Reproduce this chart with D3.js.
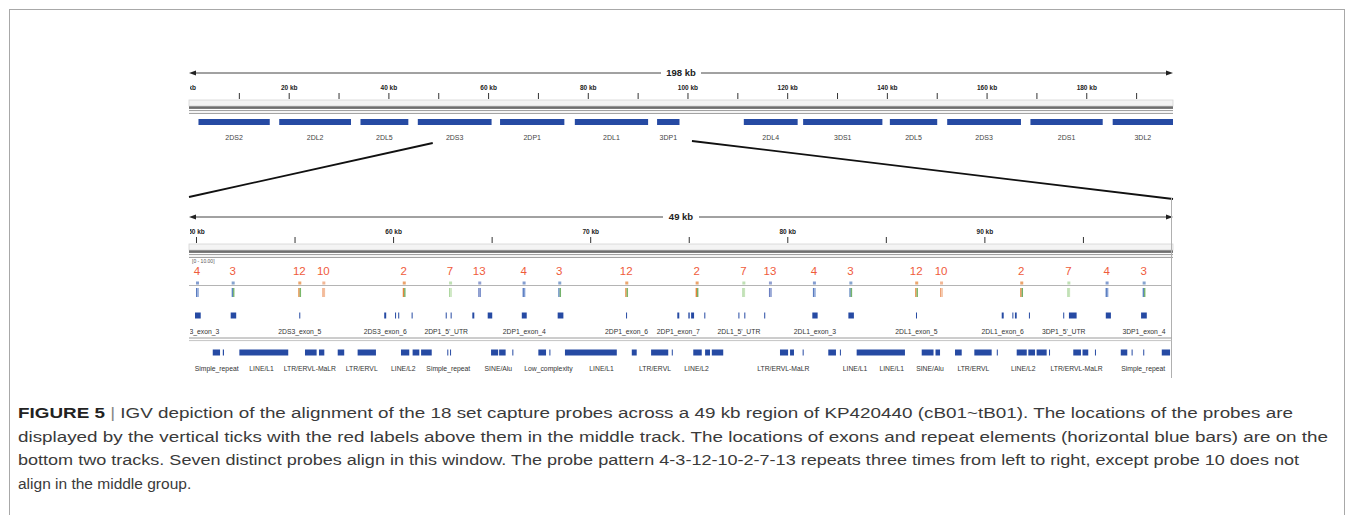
<!DOCTYPE html>
<html>
<head>
<meta charset="utf-8">
<script src="https://cdn.jsdelivr.net/npm/d3@7"></script>
<style>
    body { margin: 0; background: #fff; }
    svg { display: block; font-family: "Liberation Sans", Arial, Helvetica, sans-serif; }
</style>
</head>
<body>
<script>
// overview track: KIR genes along the 198 kb contig (kb)
const overviewSpan = [0, 197.4];
const overviewTicks = d3.range(0, 191, 10);
const geneNames = ["2DS2", "2DL2", "2DL5", "2DS3", "2DP1", "2DL1", "3DP1", "2DL4", "3DS1", "2DL5", "2DS3", "2DS1", "3DL2"];
const geneStart = [1.9, 18.1, 34.4, 45.9, 62.4, 77.4, 93.9, 111.3, 123.2, 140.6, 152.1, 168.8, 185.3];
const geneEnd = [16.2, 32.5, 44.0, 60.7, 75.3, 92.1, 98.4, 122.1, 139.1, 150.1, 166.9, 183.3, 197.4];
const zoomWindow = [48.9, 100.9];

// detail view: the 49 kb window (kb)
const detailSpan = [49.645, 99.57];
const detailTicks = d3.range(50, 96, 5);

const probeIds = [4, 3, 12, 10, 2, 7, 13, 4, 3, 12, 2, 7, 13, 4, 3, 12, 10, 2, 7, 4, 3];
const probePos = [50.00, 51.81, 55.19, 56.41, 60.49, 62.84, 64.32, 66.57, 68.38, 71.78, 75.35,
    77.72, 79.07, 81.30, 83.15, 86.49, 87.75, 91.82, 94.21, 96.15, 98.03];

const exonStart = [49.95, 51.76, 55.24, 59.55, 60.10, 60.26, 60.94, 62.67, 62.92, 64.02, 64.80,
    66.53, 68.35, 71.82, 74.42, 74.98, 75.12, 75.79, 77.52, 77.82, 78.83, 81.27, 83.10,
    86.53, 90.88, 91.42, 91.55, 92.26, 94.00, 94.29, 96.16, 97.95];
const exonEnd = [50.24, 52.04, 55.29, 59.65, 60.15, 60.31, 60.99, 62.72, 62.97, 64.12, 65.03,
    66.78, 68.64, 71.87, 74.52, 75.05, 75.27, 75.84, 77.57, 77.87, 78.88, 81.54, 83.38,
    86.58, 90.98, 91.47, 91.64, 92.31, 94.05, 94.68, 96.42, 98.24];
const exonNames = ["2DS3_exon_3", "", "2DS3_exon_5", "2DS3_exon_6", "", "", "", "2DP1_5'_UTR", "", "", "",
    "2DP1_exon_4", "", "2DP1_exon_6", "2DP1_exon_7", "", "", "", "2DL1_5'_UTR", "", "", "2DL1_exon_3", "",
    "2DL1_exon_5", "2DL1_exon_6", "", "", "", "3DP1_5'_UTR", "", "", "3DP1_exon_4"];

const repeatStart = [50.85, 51.36, 52.20, 55.53, 56.24, 57.19, 58.20, 60.40, 60.99, 61.42, 62.75, 62.89,
    64.97, 65.38, 66.05, 67.37, 67.93, 68.72, 72.11, 73.09, 74.14, 75.23, 75.83, 76.17, 79.63, 80.14,
    80.78, 82.08, 82.67, 83.52, 86.82, 87.52, 88.51, 89.49, 90.63, 91.64, 92.23, 92.65, 93.28, 94.51,
    94.98, 95.61, 96.92, 97.47, 98.06, 99.00];
const repeatEnd = [51.22, 51.42, 54.68, 56.12, 56.51, 57.52, 59.13, 60.82, 61.33, 61.96, 62.80, 62.94,
    65.33, 65.71, 66.10, 67.76, 67.98, 71.35, 72.36, 73.96, 74.19, 75.66, 76.08, 76.75, 80.04, 80.34,
    80.83, 82.47, 82.72, 85.97, 87.42, 87.75, 88.85, 90.37, 90.68, 92.15, 92.57, 93.16, 93.33, 94.90,
    95.27, 95.66, 97.25, 97.52, 98.11, 99.42];
const repeatLabelPos = [51.05, 53.33, 55.78, 58.41, 60.52, 62.80, 65.34, 67.88, 70.58, 73.29, 75.40,
    79.80, 83.44, 85.30, 87.24, 89.44, 91.97, 94.68, 98.06];
const repeatLabels = ["Simple_repeat", "LINE/L1", "LTR/ERVL-MaLR", "LTR/ERVL", "LINE/L2", "Simple_repeat",
    "SINE/Alu", "Low_complexity", "LINE/L1", "LTR/ERVL", "LINE/L2", "LTR/ERVL-MaLR", "LINE/L1", "LINE/L1",
    "SINE/Alu", "LTR/ERVL", "LINE/L2", "LTR/ERVL-MaLR", "Simple_repeat"];

const captionLines = [
    " IGV depiction of the alignment of the 18 set capture probes across a 49 kb region of KP420440 (cB01~tB01). The locations of the probes are",
    "displayed by the vertical ticks with the red labels above them in the middle track. The locations of exons and repeat elements (horizontal blue bars) are on the",
    "bottom two tracks. Seven distinct probes align in this window. The probe pattern 4-3-12-10-2-7-13 repeats three times from left to right, except probe 10 does not",
    "align in the middle group."
];

// stripe colours of the aligned probe reads
const probeColors = {
    4: ["#5a7cc0", "#86a2d6"], 3: ["#5d86bf", "#74b36c"], 12: ["#e4883e", "#7ab86b"],
    10: ["#ee9f72", "#f3bf9f"], 2: ["#e4843a", "#72b069"], 7: ["#a9d59b", "#c9e5bd"], 13: ["#6c80c2", "#8094cc"]
};

class IgvFigure {
    constructor(name) {
        this.name = name;
        this.total_width = 1356;
        this.total_height = 515;
        this.left = 189;
        this.right = 1173;
        this.blue = "#264aa3";
        this.svg = null;
    }

    construct_svg(self = this) {
        self.svg = d3.select("body").append("svg")
            .attr("id", self.name)
            .attr("width", self.total_width)
            .attr("height", self.total_height);

        self.svg.append("defs").append("clipPath").attr("id", "panel_clip")
            .append("rect").attr("x", self.left + 1).attr("y", 0)
            .attr("width", self.right - self.left - 1).attr("height", self.total_height);

        self.svg.append("rect")
            .attr("x", 9.5).attr("y", 9.5).attr("width", 1335).attr("height", 620)
            .attr("fill", "none").attr("stroke", "#a8a8a8");
    }

    draw_ruler(scale, cfg, self = this) {
        const g = self.svg.append("g").attr("class", cfg.cls);
        const mid = (self.left + self.right) / 2;
        const y = cfg.arrowY;

        g.append("line").attr("x1", self.left + 3).attr("x2", mid - cfg.gap)
            .attr("y1", y).attr("y2", y).attr("stroke", "#444");
        g.append("line").attr("x1", mid + cfg.gap).attr("x2", self.right - 3)
            .attr("y1", y).attr("y2", y).attr("stroke", "#444");
        g.append("path").attr("fill", "#222")
            .attr("d", `M${self.left},${y}L${self.left + 7},${y - 2.5}L${self.left + 7},${y + 2.5}Z`);
        g.append("path").attr("fill", "#222")
            .attr("d", `M${self.right},${y}L${self.right - 7},${y - 2.5}L${self.right - 7},${y + 2.5}Z`);
        g.append("text").attr("x", mid).attr("y", y + 3.3)
            .attr("text-anchor", "middle").attr("font-size", 9.5).attr("font-weight", "bold")
            .attr("fill", "#222").text(cfg.label);

        const axis = d3.axisTop(scale)
            .tickValues(cfg.ticks)
            .tickSize(6)
            .tickPadding(3)
            .tickFormat(d => (d % cfg.labelEvery === 0 ? d + " kb" : ""));
        const ax = g.append("g")
            .attr("clip-path", "url(#panel_clip)")
            .append("g")
            .attr("transform", "translate(0," + cfg.tickY + ")")
            .call(axis);
        ax.select(".domain").remove();
        ax.attr("font-family", null).attr("font-size", null);
        ax.selectAll("line").attr("stroke", "#333");
        ax.selectAll("text").attr("font-size", 6.5).attr("font-weight", "bold").attr("fill", "#222");

        // IGV header divider
        const b = cfg.tickY + 1;
        g.append("rect").attr("x", self.left).attr("y", b).attr("width", self.right - self.left)
            .attr("height", 6).attr("fill", "#f4f4f4").attr("stroke", "#d4d4d4").attr("stroke-width", 0.8);
        g.append("rect").attr("x", self.left).attr("y", b + 6.3).attr("width", self.right - self.left)
            .attr("height", 2.6).attr("fill", "#6f6f6f");
        [b + 10.6, b + 13.4].forEach(ly => {
            g.append("line").attr("x1", self.left).attr("x2", self.right)
                .attr("y1", ly).attr("y2", ly).attr("stroke", "#8c8c8c").attr("stroke-width", 0.9);
        });
    }

    draw_overview(self = this) {
        const x = d3.scaleLinear().domain(overviewSpan).range([self.left, self.right]);
        self.topScale = x;
        self.draw_ruler(x, { cls: "overview_ruler", arrowY: 73, tickY: 99, gap: 20,
            label: "198 kb", ticks: overviewTicks, labelEvery: 20 });

        const genes = geneNames.map((n, i) => ({ name: n, start: geneStart[i], end: geneEnd[i] }));
        const g = self.svg.append("g").attr("class", "genes");
        g.selectAll("rect").data(genes).enter().append("rect")
            .attr("x", d => x(d.start)).attr("width", d => x(d.end) - x(d.start))
            .attr("y", 119).attr("height", 6).attr("fill", self.blue);
        g.selectAll("text").data(genes).enter().append("text")
            .attr("x", d => (x(d.start) + x(d.end)) / 2).attr("y", 139.5)
            .attr("text-anchor", "middle").attr("font-size", 7).attr("fill", "#444")
            .text(d => d.name);
    }

    draw_zoom_lines(self = this) {
        const x = self.topScale;
        const g = self.svg.append("g").attr("class", "zoom_lines")
            .attr("stroke", "#111").attr("stroke-width", 1.8);
        g.append("line").attr("x1", x(zoomWindow[0])).attr("y1", 143).attr("x2", self.left).attr("y2", 197);
        g.append("line").attr("x1", x(zoomWindow[1])).attr("y1", 141).attr("x2", self.right).attr("y2", 199);
    }

    draw_detail(self = this) {
        const x = d3.scaleLinear().domain(detailSpan).range([self.left, self.right]);
        self.draw_ruler(x, { cls: "detail_ruler", arrowY: 217, tickY: 243, gap: 18,
            label: "49 kb", ticks: detailTicks, labelEvery: 10 });

        const frame = self.svg.append("g").attr("stroke", "#b0b0b0");
        frame.append("line").attr("x1", self.right - 1.5).attr("x2", self.right - 1.5)
            .attr("y1", 198).attr("y2", 378);

        self.svg.append("text").attr("x", 192).attr("y", 263)
            .attr("font-size", 5).attr("fill", "#555").text("[0 - 10.00]");

        // probe track
        const probes = probeIds.map((id, i) => ({ id: id, pos: probePos[i] }));
        const pg = self.svg.append("g").attr("class", "probes");
        pg.selectAll("text").data(probes).enter().append("text")
            .attr("x", d => x(d.pos) + 1).attr("y", 275)
            .attr("text-anchor", "middle").attr("font-size", 11.5).attr("fill", "#ef5b3b")
            .text(d => d.id);
        pg.append("line").attr("x1", self.left).attr("x2", self.right - 1.5)
            .attr("y1", 285.5).attr("y2", 285.5).attr("stroke", "#b4b4b4");
        pg.selectAll(".sq").data(probes).enter().append("rect").attr("class", "sq")
            .attr("x", d => x(d.pos)).attr("y", 281.5).attr("width", 3).attr("height", 3)
            .attr("fill", d => probeColors[d.id][0]).attr("opacity", 0.75);
        const w = x(detailSpan[0] + 0.14) - x(detailSpan[0]);
        [0, 1].forEach(k => {
            pg.selectAll(".st" + k).data(probes).enter().append("rect").attr("class", "st" + k)
                .attr("x", d => x(d.pos) + k * w / 2).attr("y", 288)
                .attr("width", w / 2).attr("height", 9)
                .attr("fill", d => probeColors[d.id][k]);
        });

        // exon track
        const exons = exonNames.map((n, i) => ({ name: n, start: exonStart[i], end: exonEnd[i] }));
        const eg = self.svg.append("g").attr("class", "exons");
        eg.selectAll("rect").data(exons).enter().append("rect")
            .attr("x", d => x(d.start)).attr("width", d => Math.max(1, x(d.end) - x(d.start)))
            .attr("y", 312.5).attr("height", 6).attr("fill", self.blue);
        eg.append("g").attr("clip-path", "url(#panel_clip)")
            .selectAll("text").data(exons.filter(d => d.name)).enter().append("text")
            .attr("x", d => (x(d.start) + x(d.end)) / 2).attr("y", 334)
            .attr("text-anchor", "middle").attr("font-size", 6.8).attr("fill", "#333")
            .text(d => d.name);

        [338, 340.6].forEach((ly, i) => {
            self.svg.append("line").attr("x1", self.left).attr("x2", self.right - 1.5)
                .attr("y1", ly).attr("y2", ly).attr("stroke", i ? "#c4c4c4" : "#9a9a9a");
        });

        // repeat track
        const repeats = repeatStart.map((s, i) => ({ start: s, end: repeatEnd[i] }));
        const rg = self.svg.append("g").attr("class", "repeats");
        rg.selectAll("rect").data(repeats).enter().append("rect")
            .attr("x", d => x(d.start)).attr("width", d => Math.max(1, x(d.end) - x(d.start)))
            .attr("y", 349.5).attr("height", 6).attr("fill", self.blue);
        rg.selectAll("text").data(repeatLabels).enter().append("text")
            .attr("x", (d, i) => x(repeatLabelPos[i])).attr("y", 371)
            .attr("text-anchor", "middle").attr("font-size", 6.8).attr("fill", "#333")
            .text(d => d);
    }

    draw_caption(self = this) {
        // the first three lines fill the column width
        const widths = [1275, 1310, 1281, null];
        const baselines = [418, 441.5, 465, 488.5];
        captionLines.forEach((line, i) => {
            const t = self.svg.append("text").attr("x", 18).attr("y", baselines[i])
                .attr("font-size", 15.5).attr("fill", "#3a3a3a");
            if (i === 0) {
                t.append("tspan").attr("font-weight", "bold").attr("fill", "#222").text("FIGURE 5");
                t.append("tspan").attr("fill", "#888").text(" |");
            }
            t.append("tspan").text(line);
            if (widths[i]) {
                t.attr("textLength", widths[i]).attr("lengthAdjust", "spacingAndGlyphs");
            }
        });
    }
}

const fig = new IgvFigure("igvFigure");
fig.construct_svg();
fig.draw_overview();
fig.draw_zoom_lines();
fig.draw_detail();
fig.draw_caption();
</script>
</body>
</html>
